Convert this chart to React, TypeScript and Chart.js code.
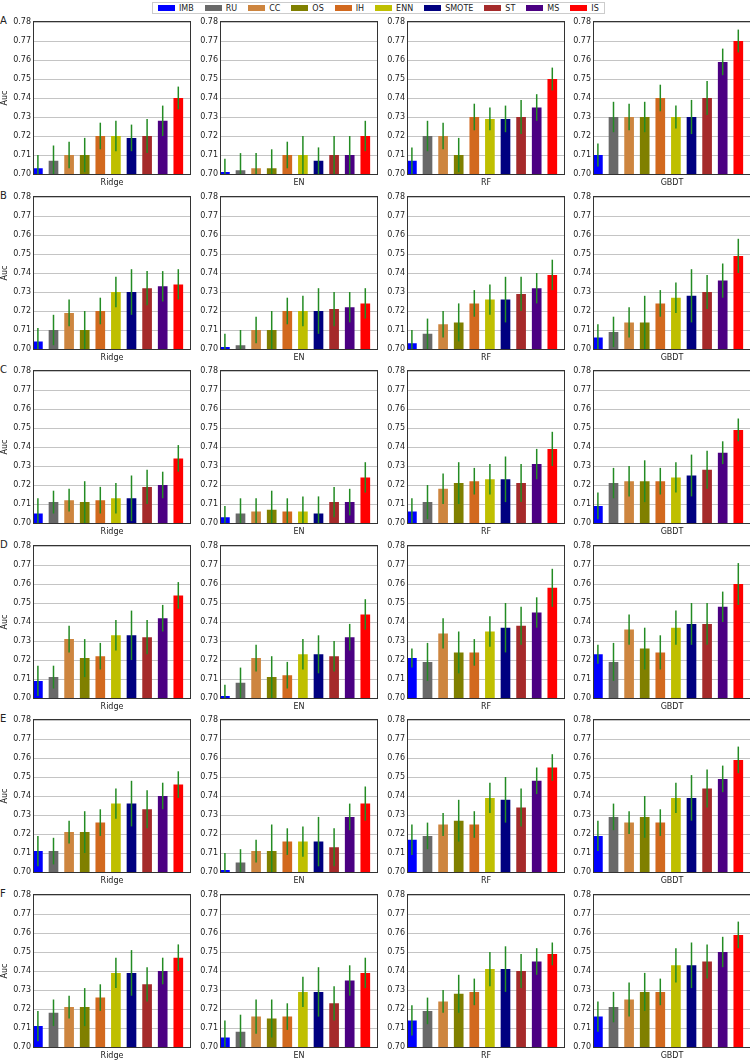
import React, { useEffect, useRef } from "react";
import { Chart, registerables } from "chart.js";

Chart.register(...registerables);

// ---------- data ----------
const METHODS = ["IMB", "RU", "CC", "OS", "IH", "ENN", "SMOTE", "ST", "MS", "IS"];
const COLORS = ["#0000ff", "#696969", "#cd853f", "#808000", "#d2691e", "#bfbf00", "#000080", "#a52a2a", "#4b0082", "#ff0000"];
const MODELS = ["Ridge", "EN", "RF", "GBDT"];
const ROW_LABELS = ["A", "B", "C", "D", "E", "F"];
const Y_TICKS = [0.70, 0.71, 0.72, 0.73, 0.74, 0.75, 0.76, 0.77, 0.78];

const RIDGE_AUC = [
  [0.703, 0.707, 0.710, 0.710, 0.720, 0.720, 0.719, 0.720, 0.728, 0.740],
  [0.704, 0.710, 0.719, 0.710, 0.720, 0.730, 0.730, 0.732, 0.733, 0.734],
  [0.705, 0.711, 0.712, 0.711, 0.712, 0.713, 0.713, 0.719, 0.720, 0.734],
  [0.709, 0.711, 0.731, 0.721, 0.722, 0.733, 0.733, 0.732, 0.742, 0.754],
  [0.711, 0.711, 0.721, 0.721, 0.726, 0.736, 0.736, 0.733, 0.740, 0.746],
  [0.711, 0.718, 0.721, 0.721, 0.726, 0.739, 0.739, 0.733, 0.740, 0.747],
];
const RIDGE_ERR = [
  [0.007, 0.008, 0.007, 0.009, 0.007, 0.008, 0.007, 0.009, 0.008, 0.006],
  [0.007, 0.008, 0.007, 0.010, 0.007, 0.008, 0.012, 0.009, 0.008, 0.008],
  [0.008, 0.006, 0.006, 0.011, 0.007, 0.008, 0.012, 0.009, 0.007, 0.007],
  [0.008, 0.006, 0.007, 0.010, 0.007, 0.008, 0.013, 0.009, 0.007, 0.007],
  [0.008, 0.007, 0.006, 0.011, 0.007, 0.008, 0.012, 0.010, 0.007, 0.007],
  [0.008, 0.007, 0.006, 0.010, 0.007, 0.008, 0.012, 0.009, 0.007, 0.007],
];

const EN_AUC = [
  [0.701, 0.702, 0.703, 0.703, 0.710, 0.710, 0.707, 0.710, 0.710, 0.720],
  [0.701, 0.702, 0.710, 0.710, 0.720, 0.720, 0.720, 0.721, 0.722, 0.724],
  [0.703, 0.705, 0.706, 0.707, 0.706, 0.706, 0.705, 0.711, 0.711, 0.724],
  [0.701, 0.708, 0.721, 0.711, 0.712, 0.723, 0.723, 0.722, 0.732, 0.744],
  [0.701, 0.705, 0.711, 0.711, 0.716, 0.716, 0.716, 0.713, 0.729, 0.736],
  [0.705, 0.708, 0.716, 0.715, 0.716, 0.729, 0.729, 0.723, 0.735, 0.739],
];
const EN_ERR = [
  [0.007, 0.009, 0.008, 0.010, 0.007, 0.010, 0.007, 0.010, 0.010, 0.008],
  [0.007, 0.008, 0.007, 0.010, 0.007, 0.008, 0.012, 0.009, 0.008, 0.008],
  [0.006, 0.008, 0.007, 0.010, 0.007, 0.008, 0.009, 0.008, 0.007, 0.008],
  [0.006, 0.008, 0.007, 0.011, 0.007, 0.008, 0.010, 0.008, 0.007, 0.008],
  [0.009, 0.007, 0.006, 0.014, 0.007, 0.008, 0.013, 0.010, 0.007, 0.009],
  [0.009, 0.009, 0.009, 0.010, 0.007, 0.008, 0.013, 0.009, 0.008, 0.008],
];

const RF_AUC = [
  [0.707, 0.720, 0.720, 0.710, 0.730, 0.729, 0.729, 0.730, 0.735, 0.750],
  [0.703, 0.708, 0.713, 0.714, 0.724, 0.726, 0.726, 0.729, 0.732, 0.739],
  [0.706, 0.711, 0.718, 0.721, 0.722, 0.723, 0.723, 0.721, 0.731, 0.739],
  [0.721, 0.719, 0.734, 0.724, 0.724, 0.735, 0.737, 0.738, 0.745, 0.758],
  [0.717, 0.719, 0.725, 0.727, 0.725, 0.739, 0.738, 0.734, 0.748, 0.755],
  [0.714, 0.719, 0.724, 0.728, 0.729, 0.741, 0.741, 0.740, 0.745, 0.749],
];
const RF_ERR = [
  [0.007, 0.008, 0.007, 0.009, 0.007, 0.006, 0.007, 0.009, 0.007, 0.006],
  [0.007, 0.008, 0.007, 0.010, 0.007, 0.008, 0.012, 0.009, 0.008, 0.008],
  [0.007, 0.009, 0.008, 0.011, 0.007, 0.008, 0.012, 0.010, 0.008, 0.009],
  [0.005, 0.010, 0.008, 0.011, 0.007, 0.008, 0.013, 0.010, 0.008, 0.010],
  [0.008, 0.007, 0.006, 0.011, 0.007, 0.008, 0.012, 0.010, 0.007, 0.007],
  [0.008, 0.007, 0.006, 0.010, 0.007, 0.009, 0.012, 0.009, 0.007, 0.006],
];

const GBDT_AUC = [
  [0.710, 0.730, 0.730, 0.730, 0.740, 0.730, 0.730, 0.740, 0.759, 0.770],
  [0.706, 0.709, 0.714, 0.714, 0.724, 0.727, 0.728, 0.730, 0.736, 0.749],
  [0.709, 0.721, 0.722, 0.722, 0.722, 0.724, 0.725, 0.728, 0.737, 0.749],
  [0.723, 0.719, 0.736, 0.726, 0.724, 0.737, 0.739, 0.739, 0.748, 0.760],
  [0.719, 0.729, 0.726, 0.729, 0.726, 0.739, 0.739, 0.744, 0.749, 0.759],
  [0.716, 0.721, 0.725, 0.729, 0.729, 0.743, 0.743, 0.745, 0.750, 0.759],
];
const GBDT_ERR = [
  [0.006, 0.008, 0.007, 0.008, 0.007, 0.006, 0.009, 0.009, 0.007, 0.006],
  [0.007, 0.008, 0.008, 0.014, 0.007, 0.008, 0.014, 0.009, 0.009, 0.009],
  [0.007, 0.008, 0.008, 0.011, 0.007, 0.008, 0.011, 0.010, 0.006, 0.006],
  [0.005, 0.010, 0.008, 0.011, 0.009, 0.009, 0.011, 0.011, 0.008, 0.011],
  [0.008, 0.007, 0.006, 0.011, 0.007, 0.008, 0.012, 0.010, 0.007, 0.007],
  [0.008, 0.008, 0.009, 0.010, 0.007, 0.009, 0.012, 0.009, 0.008, 0.007],
];

const AUC_BY_MODEL = [RIDGE_AUC, EN_AUC, RF_AUC, GBDT_AUC];
const ERR_BY_MODEL = [RIDGE_ERR, EN_ERR, RF_ERR, GBDT_ERR];

// ---------- layout ----------
const FONT = "'DejaVu Sans', sans-serif";
const PLOT_LEFTS = [34, 221, 408, 594];
const PLOT_TOPS = [22, 197, 371, 546, 720, 895];
const PLOT_W = 156;
const PLOT_H = 152;
const AXIS_W = 34;
const PAD_TOP = 8;
const PAD_RIGHT = 4;
const XAXIS_H = 22;

const errorBarPlugin = {
  id: "errorBars",
  afterDatasetsDraw(chart: any, _args: any, opts: any) {
    const { ctx, chartArea, scales } = chart;
    const meta = chart.getDatasetMeta(0);
    const pts = chart.data.datasets[0].data;
    ctx.save();
    ctx.beginPath();
    ctx.rect(chartArea.left, chartArea.top, chartArea.right - chartArea.left, chartArea.bottom - chartArea.top);
    ctx.clip();
    ctx.strokeStyle = opts.color;
    ctx.lineWidth = opts.width;
    meta.data.forEach((el: any, i: number) => {
      const v = pts[i].y;
      const e = opts.errors[i];
      ctx.beginPath();
      ctx.moveTo(el.x, scales.y.getPixelForValue(v + e));
      ctx.lineTo(el.x, scales.y.getPixelForValue(v - e));
      ctx.stroke();
    });
    ctx.restore();
  },
};

const framePlugin = {
  id: "frame",
  afterDatasetsDraw(chart: any) {
    const { ctx, chartArea } = chart;
    ctx.save();
    ctx.strokeStyle = "#333333";
    ctx.lineWidth = 1;
    ctx.strokeRect(
      chartArea.left - 0.5,
      chartArea.top - 0.5,
      chartArea.right - chartArea.left + 1,
      chartArea.bottom - chartArea.top + 1
    );
    ctx.restore();
  },
};

function Panel({ row, col }: { row: number; col: number }) {
  const ref = useRef<HTMLCanvasElement | null>(null);
  const width = AXIS_W + PLOT_W + PAD_RIGHT;
  const height = PAD_TOP + PLOT_H + XAXIS_H;
  useEffect(() => {
    if (!ref.current) return;
    const auc = AUC_BY_MODEL[col][row];
    const err = ERR_BY_MODEL[col][row];
    const chart = new Chart(ref.current, {
      type: "bar",
      data: {
        labels: METHODS,
        datasets: [
          {
            data: auc.map((v, i) => ({ x: i + 0.25, y: v })),
            backgroundColor: COLORS,
            borderWidth: 0,
            barPercentage: 0.62,
            categoryPercentage: 1,
          } as any,
        ],
      },
      options: {
        animation: false,
        responsive: false,
        devicePixelRatio: 1,
        events: [],
        layout: { padding: { top: PAD_TOP, right: PAD_RIGHT, left: 0, bottom: 0 } },
        plugins: {
          legend: { display: false },
          tooltip: { enabled: false },
          errorBars: { errors: err, color: "#238b23", width: 1.5 },
        } as any,
        scales: {
          x: {
            type: "linear",
            min: 0,
            max: METHODS.length,
            offset: false,
            grid: { display: false },
            border: { display: false },
            ticks: { display: false },
            title: {
              display: true,
              text: MODELS[col],
              color: "#222222",
              font: { family: FONT, size: 8 },
              padding: { top: 0, bottom: 8 },
            },
            afterFit: (s: any) => {
              s.height = XAXIS_H;
            },
          },
          y: {
            min: Y_TICKS[0],
            max: Y_TICKS[Y_TICKS.length - 1],
            afterBuildTicks: (s: any) => {
              s.ticks = Y_TICKS.map((v) => ({ value: v }));
            },
            ticks: {
              callback: (v: any) => Number(v).toFixed(2),
              color: "#222222",
              font: { family: FONT, size: 8 },
              padding: 3,
            },
            grid: { color: "#c4c4c4", lineWidth: 1, drawTicks: false },
            border: { display: false },
            title: {
              display: col === 0,
              text: "Auc",
              color: "#222222",
              font: { family: FONT, size: 8 },
              padding: { top: 0, bottom: 0 },
            },
            afterFit: (s: any) => {
              s.width = AXIS_W;
            },
          },
        } as any,
      },
      plugins: [errorBarPlugin, framePlugin],
    });
    return () => chart.destroy();
  }, [row, col]);
  return (
    <canvas
      ref={ref}
      width={width}
      height={height}
      style={{
        position: "absolute",
        left: PLOT_LEFTS[col] - AXIS_W,
        top: PLOT_TOPS[row] - PAD_TOP,
        width,
        height,
      }}
    />
  );
}

function Legend() {
  return (
    <div
      style={{
        position: "absolute",
        left: 152,
        top: 2,
        height: 12,
        boxSizing: "border-box",
        border: "1px solid #cccccc",
        display: "flex",
        alignItems: "center",
        padding: "0 5px",
        gap: 11,
        fontFamily: FONT,
        fontSize: 8,
        color: "#222222",
        background: "#ffffff",
        whiteSpace: "nowrap",
      }}
    >
      {METHODS.map((m, i) => (
        <div key={m} style={{ display: "flex", alignItems: "center" }}>
          <span style={{ display: "inline-block", width: 17, height: 6, background: COLORS[i], marginRight: 4 }} />
          <span>{m}</span>
        </div>
      ))}
    </div>
  );
}

export default function App() {
  return (
    <div
      style={{
        position: "fixed",
        left: 0,
        top: 0,
        width: 750,
        height: 1063,
        overflow: "hidden",
        background: "#ffffff",
      }}
    >
      {ROW_LABELS.map((lab, r) => (
        <div
          key={lab}
          style={{
            position: "absolute",
            left: 0,
            top: PLOT_TOPS[r] - 6,
            fontFamily: FONT,
            fontSize: 10,
            lineHeight: "10px",
            color: "#222222",
          }}
        >
          {lab}
        </div>
      ))}
      {ROW_LABELS.map((_, r) =>
        MODELS.map((_m, c) => <Panel key={`${r}-${c}`} row={r} col={c} />)
      )}
      <Legend />
    </div>
  );
}
